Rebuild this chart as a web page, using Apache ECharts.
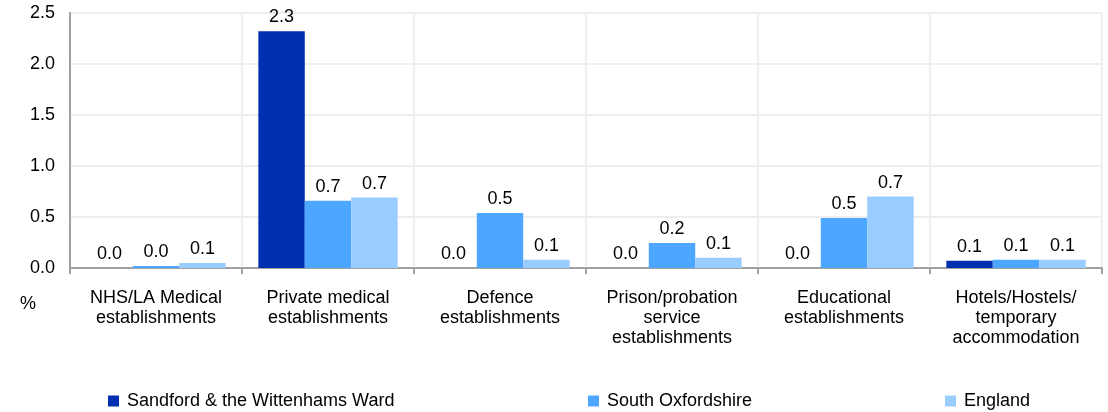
<!DOCTYPE html>
<html><head><meta charset="utf-8">
<script src="https://cdn.jsdelivr.net/npm/echarts@6/dist/echarts.min.js"></script>
<style>html,body{margin:0;padding:0;background:#fff}#c{width:1108px;height:412px}</style>
</head><body><div id="c"></div>
<script>
const categories = ["NHS/LA Medical\nestablishments","Private medical\nestablishments","Defence\nestablishments","Prison/probation\nservice\nestablishments","Educational\nestablishments","Hotels/Hostels/\ntemporary\naccommodation"];
const seriesNames = ["Sandford & the Wittenhams Ward","South Oxfordshire","England"];
const sandford = [0.0, 2.32, 0.0, 0.0, 0.0, 0.07];
const southOxon = [0.02, 0.66, 0.54, 0.245, 0.49, 0.08];
const england = [0.05, 0.69, 0.08, 0.1, 0.70, 0.08];
const yTicks = [0, 0.5, 1.0, 1.5, 2.0, 2.5];
const colors = ["#0030B0", "#4DA6FF", "#99CCFF"];
const font = "Liberation Sans, Arial, sans-serif";
const fs = 18;

const chart = echarts.init(document.getElementById('c'));
const mk = (name, data, i) => ({
  name, type: 'bar', data, barGap: '0%', barCategoryGap: '19%',
  itemStyle: {color: colors[i]},
  label: {show: true, position: 'top', distance: 5, color: '#000', fontFamily: font, fontSize: fs,
    formatter: p => p.value.toFixed(1)}
});
const legendBase = {top: 392, padding: 0, itemWidth: 11, itemHeight: 11, icon: 'rect', itemGap: 8,
  textStyle: {fontFamily: font, fontSize: fs, color: '#000', padding: [0, 0, 0, 3]}};
chart.setOption({
  animation: false,
  grid: {left: 70, right: 6, top: 13, bottom: 144},
  legend: [
    Object.assign({left: 108, data: [seriesNames[0]]}, legendBase),
    Object.assign({left: 588, data: [seriesNames[1]]}, legendBase),
    Object.assign({left: 945, data: [seriesNames[2]]}, legendBase)
  ],
  graphic: [{type: 'text', left: 20, top: 295, style: {text: '%', font: fs + 'px ' + font, fill: '#000'}}],
  xAxis: {
    type: 'category', data: categories,
    axisLine: {lineStyle: {color: '#a0a0a0', width: 2}},
    axisTick: {show: true, length: 6, lineStyle: {color: '#a0a0a0', width: 2}},
    splitLine: {show: true, lineStyle: {color: '#eee', width: 2}},
    axisLabel: {interval: 0, margin: 20, color: '#000', fontFamily: font, fontSize: fs, lineHeight: 20}
  },
  yAxis: {
    type: 'value', min: 0, max: 2.5, interval: 0.5,
    axisLine: {show: true, lineStyle: {color: '#a0a0a0', width: 2}},
    axisTick: {show: false},
    splitLine: {lineStyle: {color: '#eee', width: 2}},
    axisLabel: {margin: 15, color: '#000', fontFamily: font, fontSize: fs,
      formatter: v => v.toFixed(1)}
  },
  series: [mk(seriesNames[0], sandford, 0), mk(seriesNames[1], southOxon, 1), mk(seriesNames[2], england, 2)]
});
</script></body></html>
